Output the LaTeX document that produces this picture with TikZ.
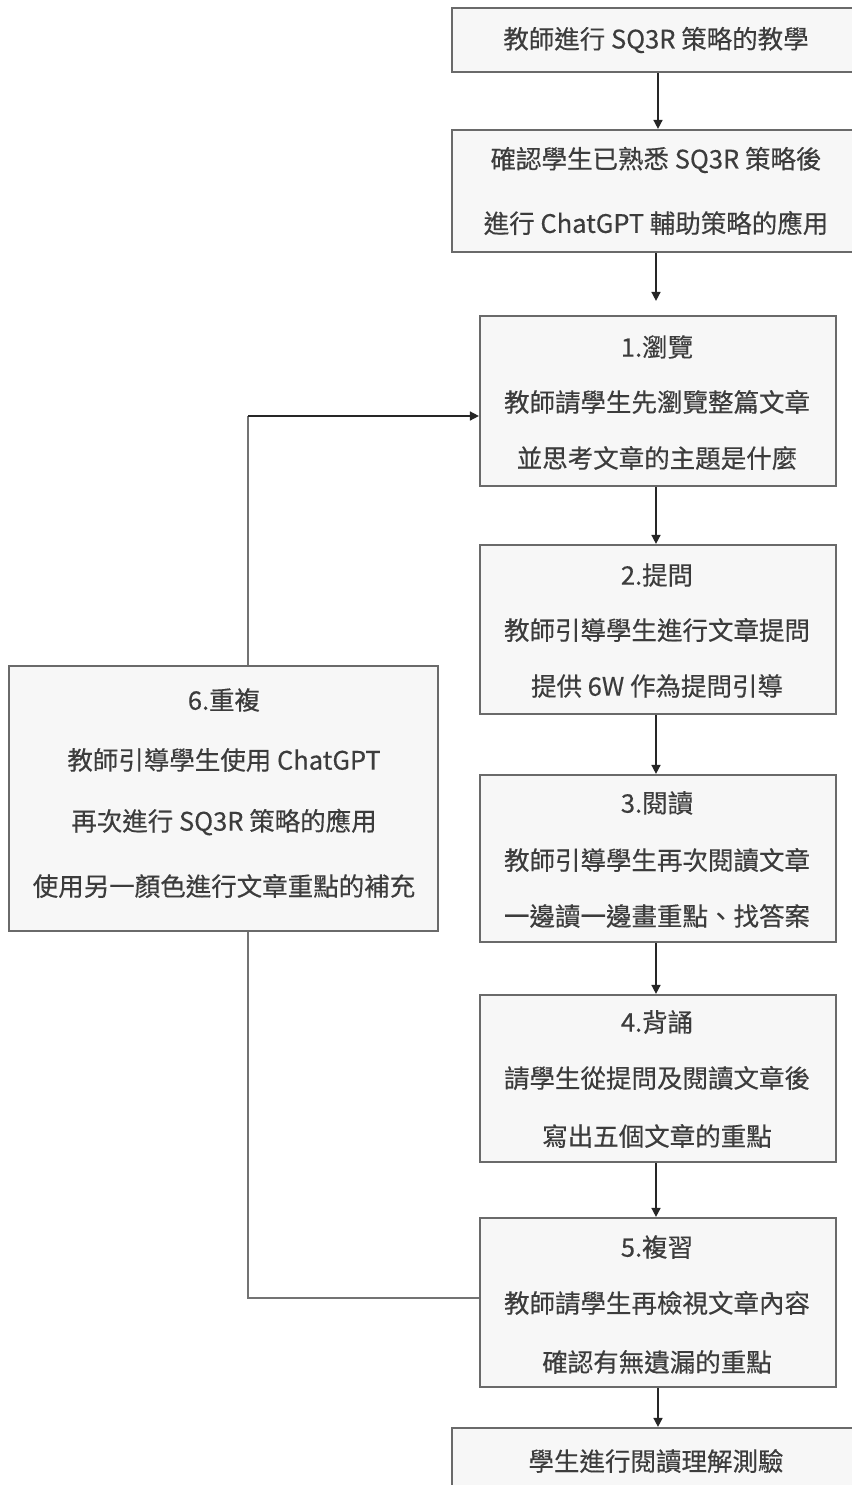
\documentclass[tikz,border=0pt]{standalone}
\usepackage{fontspec}
\setmainfont[FakeBold=0.35]{Noto Sans CJK TC}
\usetikzlibrary{arrows.meta}
\definecolor{txtc}{HTML}{3C3C3C}
\definecolor{bordc}{HTML}{6A6A6A}
\definecolor{fillc}{HTML}{F7F7F7}
\tikzset{
  box/.style={draw=bordc, line width=2.2pt, fill=fillc, inner sep=0pt},
  lbl/.style={text=txtc, font=\fontsize{25.5}{25.5}\selectfont, inner sep=0pt, anchor=center},
  arr/.style={draw=black!85, line width=1.6pt, -{Triangle[length=9pt,width=9pt]}},
  link/.style={draw=black!55, line width=1.5pt}
}
\begin{document}
\begin{tikzpicture}[x=1pt,y=-1pt]
\useasboundingbox (0,0) rectangle (851,1485);
\fill[white] (0,0) rectangle (851,1485);
% boxes
\node[box, minimum width=410pt, minimum height=64pt] (A) at (657,40) {};
\node[box, minimum width=410pt, minimum height=122pt] (B) at (657,191) {};
\node[box, minimum width=356pt, minimum height=170pt] (S1) at (658,401) {};
\node[box, minimum width=356pt, minimum height=169pt] (S2) at (658,629.5) {};
\node[box, minimum width=356pt, minimum height=167pt] (S3) at (658,858.5) {};
\node[box, minimum width=356pt, minimum height=167pt] (S4) at (658,1078.5) {};
\node[box, minimum width=356pt, minimum height=169pt] (S5) at (658,1302.5) {};
\node[box, minimum width=429pt, minimum height=265pt] (S6) at (223.5,798.5) {};
\node[box, minimum width=410pt, minimum height=120pt] (E) at (657,1488) {};
% texts
\node[lbl] (tA) at (656,40) {教師進行 SQ3R 策略的教學};
\node[lbl] (tB1) at (656,160) {確認學生已熟悉 SQ3R 策略後};
\node[lbl] (tB2) at (656,223) {進行 ChatGPT 輔助策略的應用};
\node[lbl] (t11) at (657,347) {1.瀏覽};
\node[lbl] (t12) at (657,402) {教師請學生先瀏覽整篇文章};
\node[lbl] (t13) at (657,458) {並思考文章的主題是什麼};
\node[lbl] (t21) at (657,575) {2.提問};
\node[lbl] (t22) at (657,630) {教師引導學生進行文章提問};
\node[lbl] (t23) at (657,686) {提供 6W 作為提問引導};
\node[lbl] (t31) at (657,803) {3.閱讀};
\node[lbl] (t32) at (657,860) {教師引導學生再次閱讀文章};
\node[lbl] (t33) at (657,916) {一邊讀一邊畫重點、找答案};
\node[lbl] (t41) at (657,1022) {4.背誦};
\node[lbl] (t42) at (657,1078) {請學生從提問及閱讀文章後};
\node[lbl] (t43) at (657,1136) {寫出五個文章的重點};
\node[lbl] (t51) at (657,1247) {5.複習};
\node[lbl] (t52) at (657,1303) {教師請學生再檢視文章內容};
\node[lbl] (t53) at (657,1362) {確認有無遺漏的重點};
\node[lbl] (t61) at (224,700) {6.重複};
\node[lbl] (t62) at (224,760) {教師引導學生使用 ChatGPT};
\node[lbl] (t63) at (224,822) {再次進行 SQ3R 策略的應用};
\node[lbl] (t64) at (224,886) {使用另一顏色進行文章重點的補充};
\node[lbl] (tE) at (656,1461) {學生進行閱讀理解測驗};
% arrows
\draw[arr] (A.south -| 658,0) -- (B.north -| 658,0);
\draw[arr] (B.south -| 656,0) -- ([yshift=14pt]S1.north -| 656,0);
\draw[arr] (S1.south -| 656,0) -- (S2.north -| 656,0);
\draw[arr] (S2.south -| 656,0) -- (S3.north -| 656,0);
\draw[arr] (S3.south -| 656,0) -- (S4.north -| 656,0);
\draw[arr] (S4.south -| 656,0) -- (S5.north -| 656,0);
\draw[arr] (S5.south -| 658,0) -- (E.north -| 658,0);
% loop
\coordinate (c1) at (248,1298);
\coordinate (c2) at (248,416);
\draw[link] (S5.west |- c1) -- (c1) -- (S6.south -| c1);
\draw[link] (S6.north -| c2) -- (c2);
\draw[arr] (c2) -- (S1.west |- c2);
\end{tikzpicture}
\end{document}
